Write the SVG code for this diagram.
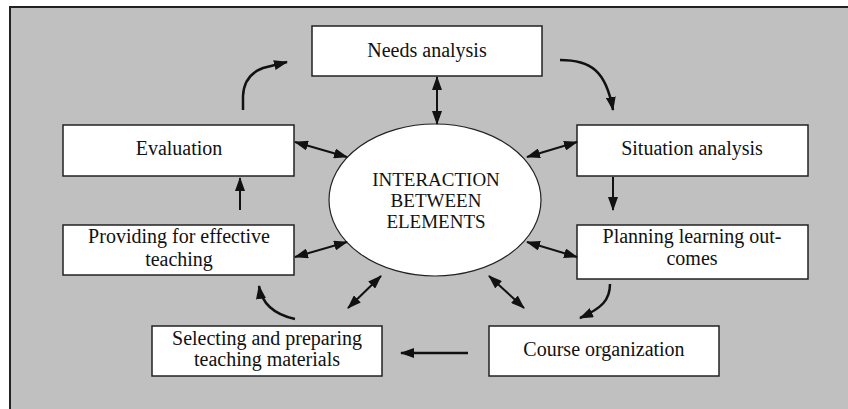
<svg xmlns="http://www.w3.org/2000/svg" width="848" height="409" viewBox="0 0 848 409">
<defs>
<style>
.box{fill:#fff;stroke:#222;stroke-width:1.5}
.t{font-family:"Liberation Serif","Times New Roman",serif;font-size:20px;fill:#111;text-anchor:middle}
.ct{font-family:"Liberation Serif","Times New Roman",serif;font-size:19px;fill:#111;text-anchor:middle}
.a{fill:none;stroke:#111;stroke-width:2;marker-end:url(#ah)}
.d{fill:none;stroke:#111;stroke-width:2;marker-start:url(#ah);marker-end:url(#ah)}
.c{fill:none;stroke:#111;stroke-width:2.5;marker-end:url(#ah)}
</style>
<marker id="ah" markerUnits="userSpaceOnUse" markerWidth="14" markerHeight="10" refX="13" refY="5" orient="auto-start-reverse">
<path d="M0,0 L14,5 L0,10 z" fill="#111"/>
</marker>
</defs>
<rect x="0" y="0" width="848" height="409" fill="#fff"/>
<rect x="10" y="7" width="850" height="420" fill="#c0c0c0" stroke="#222" stroke-width="2"/>

<g id="needs"><rect class="box" x="312" y="26" width="230" height="50"/><text class="t" x="427" y="57">Needs analysis</text></g>
<g id="situation"><rect class="box" x="577" y="125" width="231" height="51"/><text class="t" x="692" y="155">Situation analysis</text></g>
<g id="planning"><rect class="box" x="577" y="225" width="231" height="54"/><text class="t" x="692" y="243">Planning learning out-</text><text class="t" x="692" y="265">comes</text></g>
<g id="course"><rect class="box" x="489" y="326" width="230" height="50"/><text class="t" x="604" y="356">Course organization</text></g>
<g id="selecting"><rect class="box" x="152" y="326" width="230" height="50"/><text class="t" x="267" y="345">Selecting and preparing</text><text class="t" x="267" y="366">teaching materials</text></g>
<g id="providing"><rect class="box" x="63" y="225" width="231" height="50"/><text class="t" x="179" y="243">Providing for effective</text><text class="t" x="179" y="266">teaching</text></g>
<g id="evaluation"><rect class="box" x="63" y="125" width="231" height="51"/><text class="t" x="179" y="155">Evaluation</text></g>
<g id="center"><ellipse cx="435" cy="200" rx="106" ry="76" fill="#fff" stroke="#222" stroke-width="1.2"/>
<text class="ct" x="436" y="186">INTERACTION</text><text class="ct" x="436" y="207">BETWEEN</text><text class="ct" x="436" y="228">ELEMENTS</text></g>

<g id="connectors">
<path class="c" d="M243 110 L243 96 Q244 75 263 68 L287 62"/>
<path class="c" d="M560 60 C590 60 606 70 613 110"/>
<path class="a" d="M613 177 L613 210"/>
<path class="c" d="M610 284 C610 300 602 308 580 318"/>
<path class="c" d="M468 353 L401 353"/>
<path class="c" d="M295 319 Q263 312 259 286"/>
<path class="a" d="M240 210 L240 178"/>
<path class="d" d="M437 77 L437 124"/>
<path class="d" d="M295 142 L347 157"/>
<path class="d" d="M295 257 L347 242"/>
<path class="d" d="M527 157 L577 142"/>
<path class="d" d="M527 242 L577 257"/>
<path class="d" d="M348 308 L381 276"/>
<path class="d" d="M489 276 L524 308"/>
</g>
</svg>
